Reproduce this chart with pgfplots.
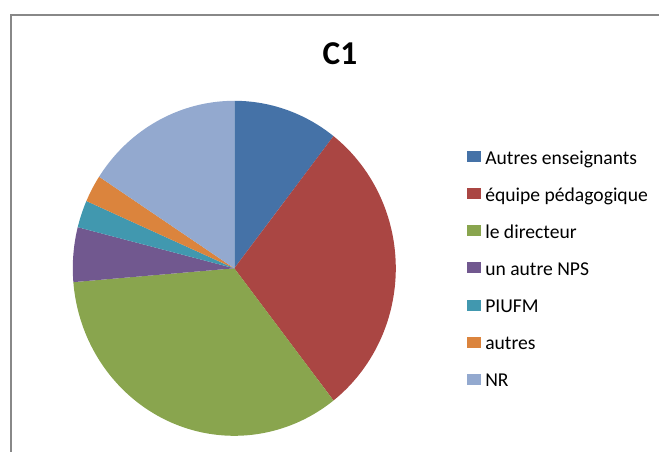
\documentclass[border=0pt]{standalone}
\usepackage{pgfplots}
\pgfplotsset{compat=1.18}
\usepackage{pgfplotstable}
\usepackage{fontspec}
\setmainfont{Carlito}
\definecolor{c0}{HTML}{4572A7}
\definecolor{c1}{HTML}{AA4643}
\definecolor{c2}{HTML}{89A54E}
\definecolor{c3}{HTML}{71588F}
\definecolor{c4}{HTML}{4198AF}
\definecolor{c5}{HTML}{DB843D}
\definecolor{c6}{HTML}{93A9CF}
\definecolor{framegray}{HTML}{888888}
\pgfplotstableread{
count
4
11
13
2
1
1
6
}\piedata
\begin{document}
\begin{tikzpicture}
\path[use as bounding box, clip] (0pt,0pt) rectangle (494.25pt,338.25pt);
\draw[framegray, line width=1.5pt] (8.6pt,-5pt) -- (8.6pt,327pt) -- (500pt,327pt);
\node[font=\bfseries\fontsize{25}{30}\selectfont] at (255pt,297.75pt) {C1};
\begin{axis}[
  hide axis,
  x=121.125pt, y=125.625pt,
  xmin=-1.1, xmax=1.1, ymin=-1.1, ymax=1.1,
  at={(175.725pt,137.025pt)}, anchor=center,
  clip=false,
  legend entries={Autres enseignants, équipe pédagogique, le directeur, un autre NPS, PIUFM, autres, NR},
  legend image code/.code={\fill[#1] (0pt,-2.5pt) rectangle (10.5pt,5.75pt); \path (12pt,0pt);},
  legend cell align=left,
  legend style={at={(1.155,0.495)}, anchor=west, draw=none, fill=none,
    inner sep=0pt,
    font=\fontsize{14.7}{18}\selectfont,
    nodes={inner sep=1.5pt, text height=16.5pt, text depth=8.3pt},
    row sep=0pt},
]
\def\total{0}
\pgfplotsforeachungrouped \i in {0,...,6}{%
  \pgfplotstablegetelem{\i}{count}\of\piedata
  \pgfmathsetmacro\newtotal{\total+\pgfplotsretval}%
  \global\let\total\newtotal
}
\def\cum{0}
\pgfplotsforeachungrouped \i in {0,...,6}{%
  \pgfplotstablegetelem{\i}{count}\of\piedata
  \pgfmathsetmacro\sa{90-360*\cum/\total}%
  \pgfmathsetmacro\cumnew{\cum+\pgfplotsretval}%
  \pgfmathsetmacro\sb{90-360*\cumnew/\total}%
  \edef\doplot{\noexpand\addplot[fill=c\i, draw=none, domain=\sb:\sa, samples=90] ({cos(x)},{sin(x)}) -- (axis cs:0,0) -- cycle;}%
  \doplot
  \global\let\cum\cumnew
}
\end{axis}
\end{tikzpicture}
\end{document}
